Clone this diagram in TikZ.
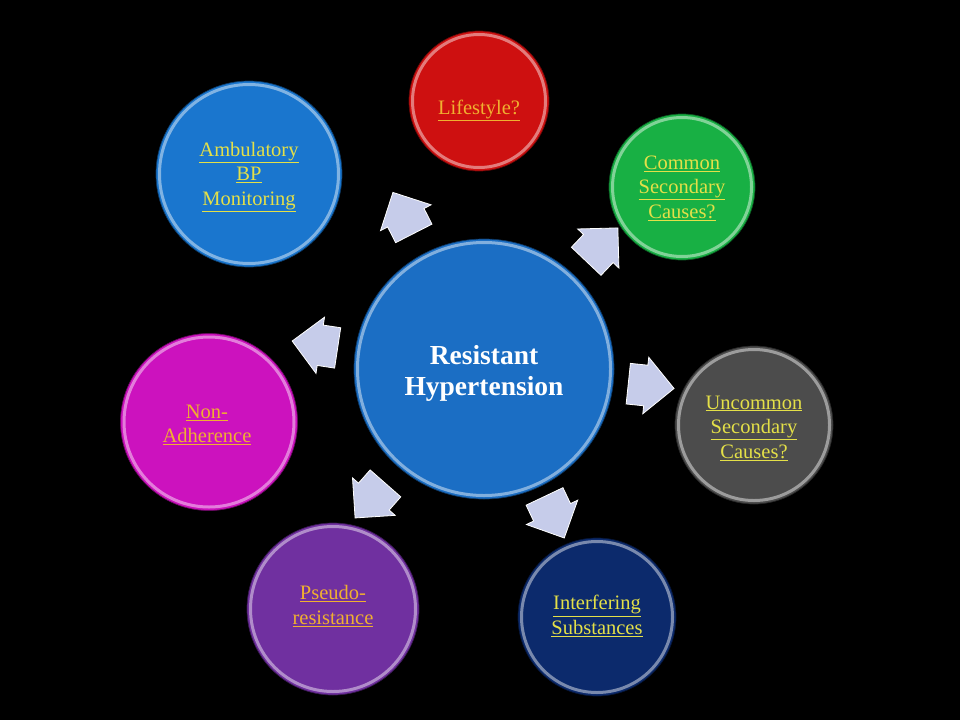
\documentclass[tikz,border=0pt]{standalone}
\usepackage{fontspec}
\setmainfont{Liberation Serif}
\usetikzlibrary{shapes.arrows,calc}
\definecolor{cCenter}{HTML}{1B6EC4}
\definecolor{cRed}{HTML}{CE1010}
\definecolor{cGreen}{HTML}{18B044}
\definecolor{cGray}{HTML}{4C4C4C}
\definecolor{cNavy}{HTML}{0C2A6C}
\definecolor{cPurple}{HTML}{7030A0}
\definecolor{cMagenta}{HTML}{CC12BE}
\definecolor{cBlue}{HTML}{1A76CE}
\definecolor{gold}{HTML}{F0B030}
\definecolor{yel}{HTML}{E4E048}
\definecolor{arrowc}{HTML}{C6CCEA}
\newcommand\lnk[1]{\underline{#1}}
\tikzset{
  bub/.style={circle, draw=#1!50!black, line width=0.7pt, fill=#1, inner sep=0pt,
    path picture={\draw[#1!40!white, line width=3pt, opacity=0.75]
      let \p1=(path picture bounding box.center), \p2=(path picture bounding box.east)
      in (\p1) circle[radius=\x2-\x1-3.5pt];}},
  txt/.style={align=center, inner sep=0pt, font=\fontsize{20.5}{24.5}\selectfont},
  arw/.style={single arrow, fill=arrowc, draw=white, line width=0.8pt,
    minimum height=46pt, minimum width=56pt, single arrow head extend=8pt,
    text height=20pt, text depth=20pt, inner sep=0pt},
}
\begin{document}
\begin{tikzpicture}[x=1pt,y=-1pt]
\fill[black] (0,0) rectangle (960,720);
\useasboundingbox (0,0) rectangle (960,720);
% arrows
\node[arw, rotate=117]  (a1) at (408,222) {};
\node[arw, rotate=46.5] (a2) at (595,252) {};
\node[arw, rotate=-6]   (a3) at (641,385) {};
\node[arw, rotate=-64.6](a4) at (550,508) {};
\node[arw, rotate=228.7](a5) at (377,493) {};
\node[arw, rotate=171.4](a6) at (325,346) {};
% circles
\node[bub=cCenter, minimum size=260pt] (c) at (484,369) {};
\node[bub=cRed, minimum size=140pt] (life) at (479,101) {};
\node[bub=cGreen, minimum size=146pt] (common) at (682,187) {};
\node[bub=cGray, minimum size=158pt] (uncommon) at (754,425) {};
\node[bub=cNavy, minimum size=158pt] (interf) at (597,617) {};
\node[bub=cPurple, minimum size=172pt] (pseudo) at (333,609) {};
\node[bub=cMagenta, minimum size=177pt] (nonadh) at (209,422) {};
\node[bub=cBlue, minimum size=186pt] (abpm) at (249,174) {};
% texts
\node[txt, text=white, font=\bfseries\fontsize{27.5}{31}\selectfont] (cT) at ($(c.center)+(0,4)$) {Resistant\\Hypertension};
\node[txt, text=gold] (lifeT) at ($(life.center)+(0,9)$) {\lnk{Lifestyle?}};
\node[txt, text=yel] (commonT) at ($(common.center)+(0,1)$) {\lnk{Common}\\\lnk{Secondary}\\\lnk{Causes?}};
\node[txt, text=yel] (uncommonT) at ($(uncommon.center)+(0,3)$) {\lnk{Uncommon}\\\lnk{Secondary}\\\lnk{Causes?}};
\node[txt, text=yel] (interfT) at ($(interf.center)+(0,-1)$) {\lnk{Interfering}\\\lnk{Substances}};
\node[txt, text=gold] (pseudoT) at ($(pseudo.center)+(0,-3)$) {\lnk{Pseudo-}\\\lnk{resistance}};
\node[txt, text=gold] (nonadhT) at ($(nonadh.center)+(-2,3)$) {\lnk{Non-}\\\lnk{Adherence}};
\node[txt, text=yel] (abpmT) at ($(abpm.center)+(0,3)$) {\lnk{Ambulatory}\\\lnk{BP}\\\lnk{Monitoring}};
\end{tikzpicture}
\end{document}
